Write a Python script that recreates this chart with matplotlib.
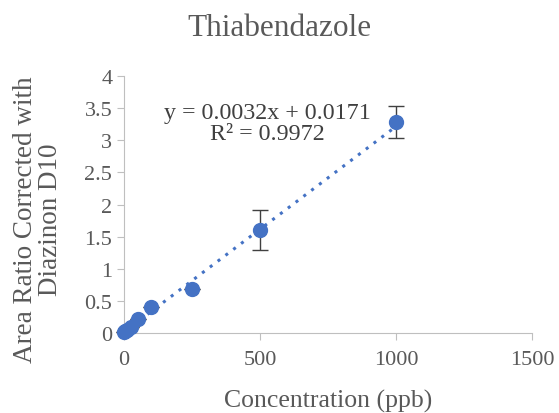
import matplotlib
matplotlib.use("Agg")
import matplotlib.pyplot as plt
import numpy as np

plt.rcParams['font.family'] = ['Liberation Serif', 'DejaVu Serif']

conc = [1, 5, 10, 25, 50, 100, 250, 500, 1000]
ratio = [0.02, 0.03, 0.05, 0.1, 0.22, 0.41, 0.69, 1.6, 3.28]
err = [0, 0, 0, 0, 0, 0, 0, 0.31, 0.25]
slope = 0.0032
intercept = 0.0171

fig = plt.figure(figsize=(5.59, 4.14), dpi=100)
ax = fig.add_axes([0.222, 0.193, 0.730, 0.621])

xs = np.array([0, 1000])
ax.plot(xs, slope * xs + intercept, color='#4472c4', linestyle=(0, (1, 2.2)), linewidth=2.2, zorder=2)
ax.errorbar(conc, ratio, yerr=err, fmt='o', color='#4472c4', markersize=10,
            ecolor='#404040', elinewidth=1, capsize=6, capthick=1, zorder=3, clip_on=False)

ax.set_xlim(0, 1500)
ax.set_ylim(0, 4)
ax.set_xticks([0, 500, 1000, 1500])
ax.set_yticks([0, 0.5, 1, 1.5, 2, 2.5, 3, 3.5, 4])
ax.set_yticklabels(['0', '0.5', '1', '1.5', '2', '2.5', '3', '3.5', '4'])
for s in ['top', 'right']:
    ax.spines[s].set_visible(False)
for s in ['left', 'bottom']:
    ax.spines[s].set_color('#bfbfbf')
ax.tick_params(colors='#bfbfbf', labelcolor='#595959', labelsize=16, length=5)
ax.tick_params(axis='x', pad=7)

fig.text(0.5, 0.93, 'Thiabendazole', fontsize=22.5, color='#595959', ha='center', va='center')
ax.set_xlabel('Concentration (ppb)', fontsize=18.5, color='#595959', va='baseline')
ax.xaxis.set_label_coords(0.5, -0.286)
ax.set_ylabel('Area Ratio Corrected with\nDiazinon D10', fontsize=19.5, color='#595959',
              va='center', linespacing=1.0)
ax.yaxis.set_label_coords(-0.211, 0.444)

ax.text(0.35, 0.9, 'y = 0.0032x + 0.0171\nR² = 0.9972', transform=ax.transAxes,
        fontsize=17.3, color='#404040', ha='center', va='top', linespacing=1.0)

fig.savefig('out.png', dpi=100)
